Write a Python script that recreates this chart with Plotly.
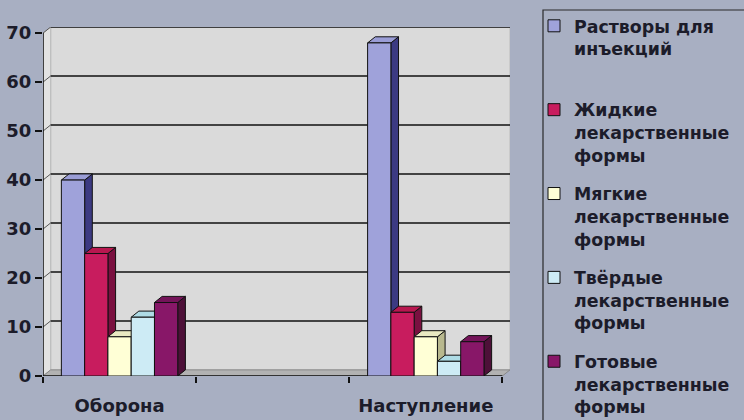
import plotly.graph_objects as go

# ---- data ----
categories = ["Оборона", "Наступление"]
series_names = [
    "Растворы для<br>инъекций<br> ",
    "Жидкие<br>лекарственные<br>формы",
    "Мягкие<br>лекарственные<br>формы",
    "Твёрдые<br>лекарственные<br>формы",
    "Готовые<br>лекарственные<br>формы",
]
rastvory = [40, 68]
zhidkie = [25, 13]
myagkie = [8, 8]
tverdye = [12, 3]
gotovye = [15, 7]
y_ticks = [0, 10, 20, 30, 40, 50, 60, 70]

series_values = [rastvory, zhidkie, myagkie, tverdye, gotovye]

# ---- style ----
front_colors = ["#9FA2DA", "#C81C5E", "#FFFFD6", "#CDEBF5", "#881768"]
side_colors = ["#3C3A82", "#7A1040", "#B8B88E", "#8FB8C4", "#4D1038"]
top_colors = ["#9A9DD6", "#B8174F", "#E9E9C2", "#AEDBE5", "#741459"]
BG = "#A8AFC2"
WALL = "#DADADA"
LWALL = "#E2E2E2"
FLOOR = "#B2B2B2"
TXT = "#1C1C2A"
FONT = "DejaVu Sans"

CAT_STEP = 2          # one empty slot between the two categories
BW = 0.152            # bar width (x units)
DX, DY = 0.05, 1.25   # 3-D depth offsets
YMAX = y_ticks[-1]

xpos = [i * CAT_STEP for i in range(len(categories))]
n = len(series_values)
XL, XR = -0.5, xpos[-1] + 0.5

L, R, T, B = 43, 234, 27, 44
W, H = 744, 420
PW, PH = W - L - R, H - T - B

fig = go.Figure()
shapes = []

# walls / floor
shapes.append(dict(type="path", layer="below", xref="x", yref="y",
                   path=f"M {XL+DX},{DY} L {XR+DX},{DY} L {XR+DX},{YMAX+DY} L {XL+DX},{YMAX+DY} Z",
                   fillcolor=WALL, line=dict(color="#BBBBBB", width=1)))
shapes.append(dict(type="path", layer="below", xref="x", yref="y",
                   path=f"M {XL},0 L {XL+DX},{DY} L {XL+DX},{YMAX+DY} L {XL},{YMAX} Z",
                   fillcolor=LWALL, line=dict(color="#BBBBBB", width=1)))
shapes.append(dict(type="path", layer="below", xref="x", yref="y",
                   path=f"M {XL},0 L {XR},0 L {XR+DX},{DY} L {XL+DX},{DY} Z",
                   fillcolor=FLOOR, line=dict(color="#888888", width=1)))
# gridlines on back wall and left wall
for t in y_ticks[1:]:
    shapes.append(dict(type="line", layer="below", xref="x", yref="y",
                       x0=XL + DX, x1=XR + DX, y0=t + DY, y1=t + DY,
                       line=dict(color="#111111", width=1.5)))
    shapes.append(dict(type="line", layer="below", xref="x", yref="y",
                       x0=XL, x1=XL + DX, y0=t, y1=t + DY,
                       line=dict(color="#555555", width=1)))
# axis lines
shapes.append(dict(type="line", layer="below", xref="x", yref="y",
                   x0=XL, x1=XL, y0=0, y1=YMAX, line=dict(color="#111111", width=1.5)))
shapes.append(dict(type="line", layer="below", xref="x", yref="y",
                   x0=XL, x1=XR, y0=0, y1=0, line=dict(color="#111111", width=1.5)))

# bars + 3-D faces
for i, (name, vals) in enumerate(zip(series_names, series_values)):
    off = (i - n / 2) * BW
    fig.add_trace(go.Bar(
        x=xpos, y=vals, name=name, width=BW, offset=off,
        marker=dict(color=front_colors[i], line=dict(color="#111111", width=1)),
        legendgroup=f"g{i}",
    ))
    for xc, v in zip(xpos, vals):
        x0 = xc + off
        x1 = x0 + BW
        shapes.append(dict(type="path", layer="below", xref="x", yref="y",
                           path=f"M {x1},0 L {x1+DX},{DY} L {x1+DX},{v+DY} L {x1},{v} Z",
                           fillcolor=side_colors[i], line=dict(color="#111111", width=1)))
        shapes.append(dict(type="path", layer="below", xref="x", yref="y",
                           path=f"M {x0},{v} L {x1},{v} L {x1+DX},{v+DY} L {x0+DX},{v+DY} Z",
                           fillcolor=top_colors[i], line=dict(color="#111111", width=1)))

# legend frame (open to the right/bottom like the reference)
def px2paper_x(px):
    return (px - L) / PW

def px2paper_y(py):
    return (H - B - py) / PH

shapes.append(dict(type="rect", xref="paper", yref="paper", layer="above",
                   x0=px2paper_x(543), x1=px2paper_x(760),
                   y0=px2paper_y(440), y1=px2paper_y(10),
                   line=dict(color="#2A2A2A", width=1.2), fillcolor="rgba(0,0,0,0)"))

fig.update_layout(
    width=W, height=H,
    margin=dict(l=L, r=R, t=T, b=B, pad=0, autoexpand=False),
    paper_bgcolor=BG, plot_bgcolor=BG,
    barmode="group",
    shapes=shapes,
    font=dict(family=FONT, size=18, color=TXT, weight="bold"),
    showlegend=True,
    hovermode=False,
    legend=dict(
        xref="container", yref="container",
        x=534 / W, y=1 - 8 / H, xanchor="left", yanchor="top",
        bgcolor="rgba(0,0,0,0)", borderwidth=0,
        font=dict(family=FONT, size=17.4, color=TXT, weight="bold"),
        valign="top", tracegroupgap=13, itemclick=False,
        maxheight=1,
    ),
    xaxis=dict(
        range=[XL, XR + DX], tickvals=xpos, ticktext=categories,
        ticks="", showgrid=False, zeroline=False, showline=False,
        automargin=False, ticklabelstandoff=17,
        tickfont=dict(family=FONT, size=18, color=TXT, weight="bold"),
        minor=dict(tickmode="array", tickvals=[XL + k for k in range(int(XR - XL) + 1)],
                   ticks="outside", ticklen=6, tickcolor="#111111", tickwidth=1.5,
                   showgrid=False),
    ),
    yaxis=dict(
        range=[0, YMAX + DY], tickvals=y_ticks, automargin=False,
        ticks="outside", ticklen=7, tickcolor="#111111", tickwidth=1.5,
        showgrid=False, zeroline=False, showline=False,
        tickfont=dict(family=FONT, size=18, color=TXT, weight="bold"),
    ),
)

fig.write_html(
    "out.html",
    config={"displayModeBar": False},
    post_script="document.body.style.margin='0';document.body.style.background='" + BG + "';",
)
